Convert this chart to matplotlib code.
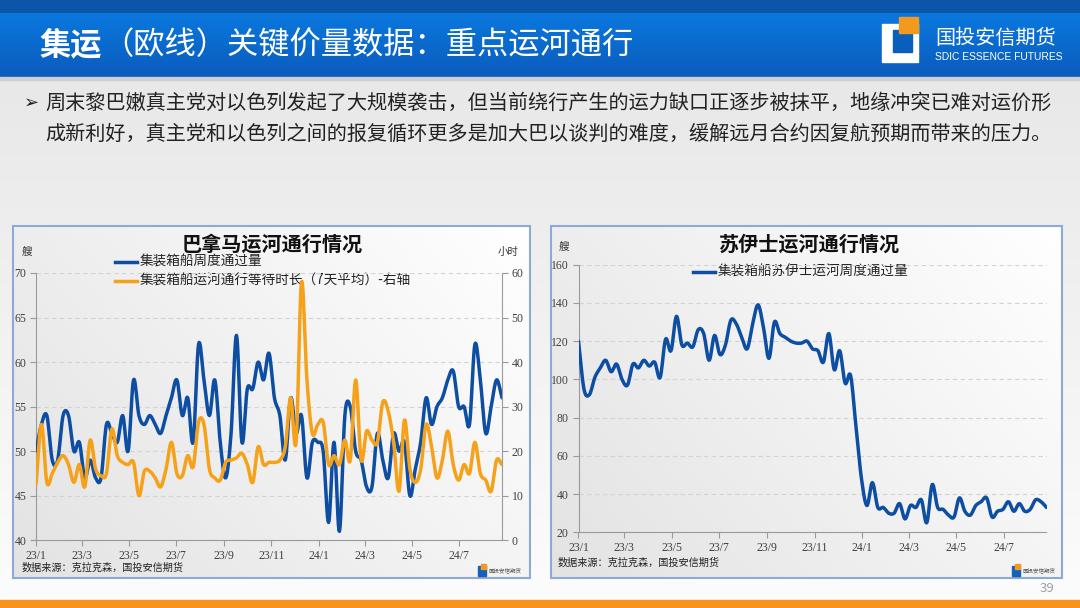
import numpy as np
import pandas as pd
import matplotlib
matplotlib.use("Agg")
import matplotlib.pyplot as plt
import matplotlib.dates as mdates
from matplotlib.patches import Rectangle

plt.rcParams['font.family'] = ['Noto Sans CJK SC', 'DejaVu Sans']

# --- data ---
weeks = pd.date_range('2023-01-01', periods=87, freq='7D')

# Panama: container ship weekly transits (left axis, ships)
panama_transits = [50, 53, 54, 49, 49, 54, 54, 50, 51, 47, 49, 47, 47, 53, 52, 51, 54, 50,
                   58, 54, 53, 54, 53, 52, 54, 56, 58, 54, 56, 51, 62, 58, 54, 58, 51, 47,
                   52, 63, 51, 57, 57, 60, 58, 61, 56, 54, 49, 56, 52, 54, 47, 51, 51, 50,
                   42, 51, 41, 54, 55, 50, 49, 46, 46, 52, 49, 47, 52, 50, 51, 45, 48, 51,
                   56, 53, 55, 56, 58, 59, 55, 55, 53, 62, 58, 52, 55, 58, 56]
# Panama: waiting time, 7-day average (right axis, hours)
panama_wait = [12.5, 26, 13, 15, 17.5, 19, 17, 13, 17, 12, 22.5, 16, 14.5, 15, 25, 19, 17.5, 17,
               17.5, 10, 15.5, 15.5, 14, 12, 16, 22, 15, 14.5, 19, 16.5, 26.5, 26, 16, 14, 13.5, 17.5,
               18, 18.5, 19.5, 17, 13, 21, 17, 17.5, 17.5, 18, 21, 32, 22, 58, 36, 24, 26, 26.5,
               17, 19, 17, 22.5, 18, 36, 18, 24.5, 22.5, 22, 31, 29, 22, 11, 27, 16, 13, 16,
               26, 21, 14, 18, 24.5, 17, 13.5, 17, 15, 22, 15, 13.5, 11, 18, 17]
# Suez: container ship weekly transits (ships)
suez_transits = [120, 95, 92, 101, 106, 110, 104, 108, 100, 97, 108, 106, 110, 107, 109, 101, 121, 115,
                 133, 118, 119, 117, 126, 124, 110, 123, 113, 118, 131, 129, 122, 116, 129, 139, 127, 111,
                 130, 124, 122, 120, 119, 119, 120, 116, 115, 109, 124, 105, 115, 98, 102, 75, 48, 34,
                 46, 33, 33, 30, 30, 35, 27, 34, 33, 37, 25, 45, 33, 32, 29, 28, 38, 31,
                 29, 34, 36, 38, 28, 31, 32, 36, 31, 35, 31, 32, 37, 36, 33]

tick_months = ['2023-01-01', '2023-03-01', '2023-05-01', '2023-07-01', '2023-09-01', '2023-11-01',
               '2024-01-01', '2024-03-01', '2024-05-01', '2024-07-01']
tick_labels = ['23/1', '23/3', '23/5', '23/7', '23/9', '23/11', '24/1', '24/3', '24/5', '24/7']

BLUE = '#0D4EA3'
ORANGE = '#F6A11A'
GRID = '#D3D3D3'
SPINE = '#9A9A9A'
TICKC = '#404040'
SERIF = 'Liberation Serif'
LW = 2.5


def smooth(x, y, n=10):
    # Catmull-Rom curve through the points (like Excel's smoothed line)
    x = np.asarray(x, float)
    y = np.asarray(y, float)
    px = np.concatenate([[2 * x[0] - x[1]], x, [2 * x[-1] - x[-2]]])
    py = np.concatenate([[2 * y[0] - y[1]], y, [2 * y[-1] - y[-2]]])
    t = np.linspace(0, 1, n, endpoint=False)
    ox, oy = [], []
    for i in range(1, len(px) - 2):
        for p, o in ((px, ox), (py, oy)):
            p0, p1, p2, p3 = p[i - 1], p[i], p[i + 1], p[i + 2]
            o.extend(0.5 * (2 * p1 + (-p0 + p2) * t + (2 * p0 - 5 * p1 + 4 * p2 - p3) * t ** 2
                            + (-p0 + 3 * p1 - 3 * p2 + p3) * t ** 3))
    ox.append(x[-1])
    oy.append(y[-1])
    return np.array(ox), np.array(oy)


fig = plt.figure(figsize=(10.8, 6.08), dpi=100)

# --- slide background, in pixel coordinates ---
bg = fig.add_axes([0, 0, 1, 1], zorder=-5)
bg.set_xlim(0, 1080)
bg.set_ylim(608, 0)
bg.axis('off')

grad = np.linspace(0.91, 0.99, 256).reshape(-1, 1)
bg.imshow(np.dstack([grad, grad, grad]), extent=(0, 1080, 608, 78), aspect='auto', zorder=0)

# header banner
bg.add_patch(Rectangle((0, 0), 1080, 13, color='#0B56A8', zorder=1))
ban = np.linspace(0, 1, 64).reshape(-1, 1)
top_c = np.array([0.04, 0.47, 0.87])
bot_c = np.array([0.04, 0.36, 0.74])
ban_img = top_c[None, None, :] * (1 - ban[:, :, None]) + bot_c[None, None, :] * ban[:, :, None]
bg.imshow(ban_img, extent=(0, 1080, 77, 13), aspect='auto', zorder=1)
bg.add_patch(Rectangle((0, 77), 1080, 3, color='#CFCFCF', zorder=2))

bg.text(40, 45, '集运', color='white', fontsize=22.5, fontweight='bold', va='center', zorder=3)
bg.text(102, 45, '（欧线）关键价量数据：重点运河通行', color='white', fontsize=22.5,
        va='center', zorder=3)

# company logo
bg.add_patch(Rectangle((882, 24), 36, 38, color='white', zorder=3))
bg.add_patch(Rectangle((893, 30), 19, 22, color='#0A5FBC', zorder=4))
bg.add_patch(Rectangle((899, 17), 19, 16, color='#F39A1E', zorder=5))
bg.text(935, 38, '国投安信期货', color='white', fontsize=14.5, va='center', zorder=3)
bg.text(935, 57, 'SDIC ESSENCE FUTURES', color='white', fontsize=7.4, va='center',
        family='Liberation Sans', zorder=3)

# bullet text
bg.text(24, 103, '➢', fontsize=13, va='center', color='#222222',
        family=['DejaVu Sans'], zorder=3)
bg.text(45, 103, '周末黎巴嫩真主党对以色列发起了大规模袭击，但当前绕行产生的运力缺口正逐步被抹平，地缘冲突已难对运价形',
        fontsize=14.5, va='center', color='#222222', zorder=3)
bg.text(45, 134, '成新利好，真主党和以色列之间的报复循环更多是加大巴以谈判的难度，缓解远月合约因复航预期而带来的压力。',
        fontsize=14.5, va='center', color='#222222', zorder=3)

# chart boxes
box_g = np.linspace(0, 1, 128)
for (x0, x1) in ((13, 530), (551, 1062)):
    gx, gy = np.meshgrid(box_g, box_g)
    d = np.clip(1 - 0.07 * (1 - gx) - 0.04 * gy, 0, 1)
    bg.imshow(np.dstack([d, d, d]), extent=(x0, x1, 578, 226), aspect='auto', zorder=2)
    bg.add_patch(Rectangle((x0, 226), x1 - x0, 352, fill=False, edgecolor='#8DA9D8',
                           linewidth=1.5, zorder=3))

# footer
bg.add_patch(Rectangle((0, 600), 1080, 8, color='#F7941D', zorder=2))
bg.text(1054, 588, '39', fontsize=9.5, color='#A0A0A0', ha='right', va='center', zorder=3)

# ---------- left chart: Panama ----------
bg.text(272, 244, '巴拿马运河通行情况', fontsize=14.5, fontweight='bold', ha='center',
        va='center', color='#111111', zorder=4)
bg.text(22, 252, '艘', fontsize=7.5, va='center', color='#333333', zorder=4)
bg.text(498, 252, '小时', fontsize=7.5, va='center', color='#333333', zorder=4)
bg.plot([115, 137], [262, 262], color=BLUE, linewidth=LW, zorder=4)
bg.text(140, 262, '集装箱船周度通过量', fontsize=9.8, va='center', color='#222222', zorder=4)
bg.plot([115, 137], [281, 281], color=ORANGE, linewidth=LW, zorder=4)
bg.text(140, 281, '集装箱船运河通行等待时长（7天平均）-右轴', fontsize=9.8, va='center',
        color='#222222', zorder=4)
bg.text(22, 568, '数据来源：克拉克森，国投安信期货', fontsize=7.3, va='center',
        color='#222222', zorder=4)

xnum = mdates.date2num(weeks)
tick_x = mdates.date2num(pd.to_datetime(tick_months))

ax1 = fig.add_axes([36 / 1080, 1 - 540.3 / 608, 466 / 1080, 267.3 / 608])
ax1.patch.set_alpha(0)
ax2 = ax1.twinx()

sx, sy = smooth(xnum, panama_transits)
ax1.plot(sx, sy, color=BLUE, linewidth=LW, solid_capstyle='round', zorder=3)
sx, sy = smooth(xnum, panama_wait)
ax2.plot(sx, sy, color=ORANGE, linewidth=LW, solid_capstyle='round', zorder=3)

ax1.set_ylim(40, 70)
ax1.set_yticks(np.arange(40, 71, 5))
ax2.set_ylim(0, 60)
ax2.set_yticks(np.arange(0, 61, 10))

# ---------- right chart: Suez ----------
bg.text(810, 244, '苏伊士运河通行情况', fontsize=14.5, fontweight='bold', ha='center',
        va='center', color='#111111', zorder=4)
bg.text(559, 247, '艘', fontsize=7.5, va='center', color='#333333', zorder=4)
bg.plot([693, 715], [272, 272], color=BLUE, linewidth=LW, zorder=4)
bg.text(718, 272, '集装箱船苏伊士运河周度通过量', fontsize=9.8, va='center',
        color='#222222', zorder=4)
bg.text(558, 563, '数据来源：克拉克森，国投安信期货', fontsize=7.3, va='center',
        color='#222222', zorder=4)

ax3 = fig.add_axes([578.5 / 1080, 1 - 532.3 / 608, 468 / 1080, 267.6 / 608])
ax3.patch.set_alpha(0)
sx, sy = smooth(xnum, suez_transits)
ax3.plot(sx, sy, color=BLUE, linewidth=LW, solid_capstyle='round', zorder=3)
ax3.set_ylim(20, 160)
ax3.set_yticks(np.arange(20, 161, 20))

# small logos in the chart corners
for lx in (478, 1012):
    bg.add_patch(Rectangle((lx, 566), 8, 10, color='#1560BD', zorder=4))
    bg.add_patch(Rectangle((lx + 3, 564), 5, 5, color='#F39A1E', zorder=5))
    bg.text(lx + 11, 570, '国投安信期货', fontsize=4, va='center', color='#555555', zorder=4)

# common axis styling
for ax in (ax1, ax3):
    ax.set_xlim(xnum[0], xnum[-1])
    ax.set_xticks(tick_x)
    ax.set_xticklabels(tick_labels)
    ax.grid(axis='y', color=GRID, linestyle=(0, (4, 3)), linewidth=0.8)
    ax.set_axisbelow(True)
    for s in ('top', 'right'):
        ax.spines[s].set_visible(False)
    for s in ('left', 'bottom'):
        ax.spines[s].set_color(SPINE)
    ax.tick_params(colors=SPINE, labelcolor=TICKC, labelsize=8.5, length=4, width=0.8, pad=3)
    for lab in ax.get_xticklabels() + ax.get_yticklabels():
        lab.set_family(SERIF)

ax2.set_xlim(xnum[0], xnum[-1])
for s in ('top', 'left', 'bottom'):
    ax2.spines[s].set_visible(False)
ax2.spines['right'].set_color(SPINE)
ax2.tick_params(colors=SPINE, labelcolor=TICKC, labelsize=8.5, length=4, width=0.8, pad=3)
for lab in ax2.get_yticklabels():
    lab.set_family(SERIF)

fig.savefig('out.png', dpi=100)
